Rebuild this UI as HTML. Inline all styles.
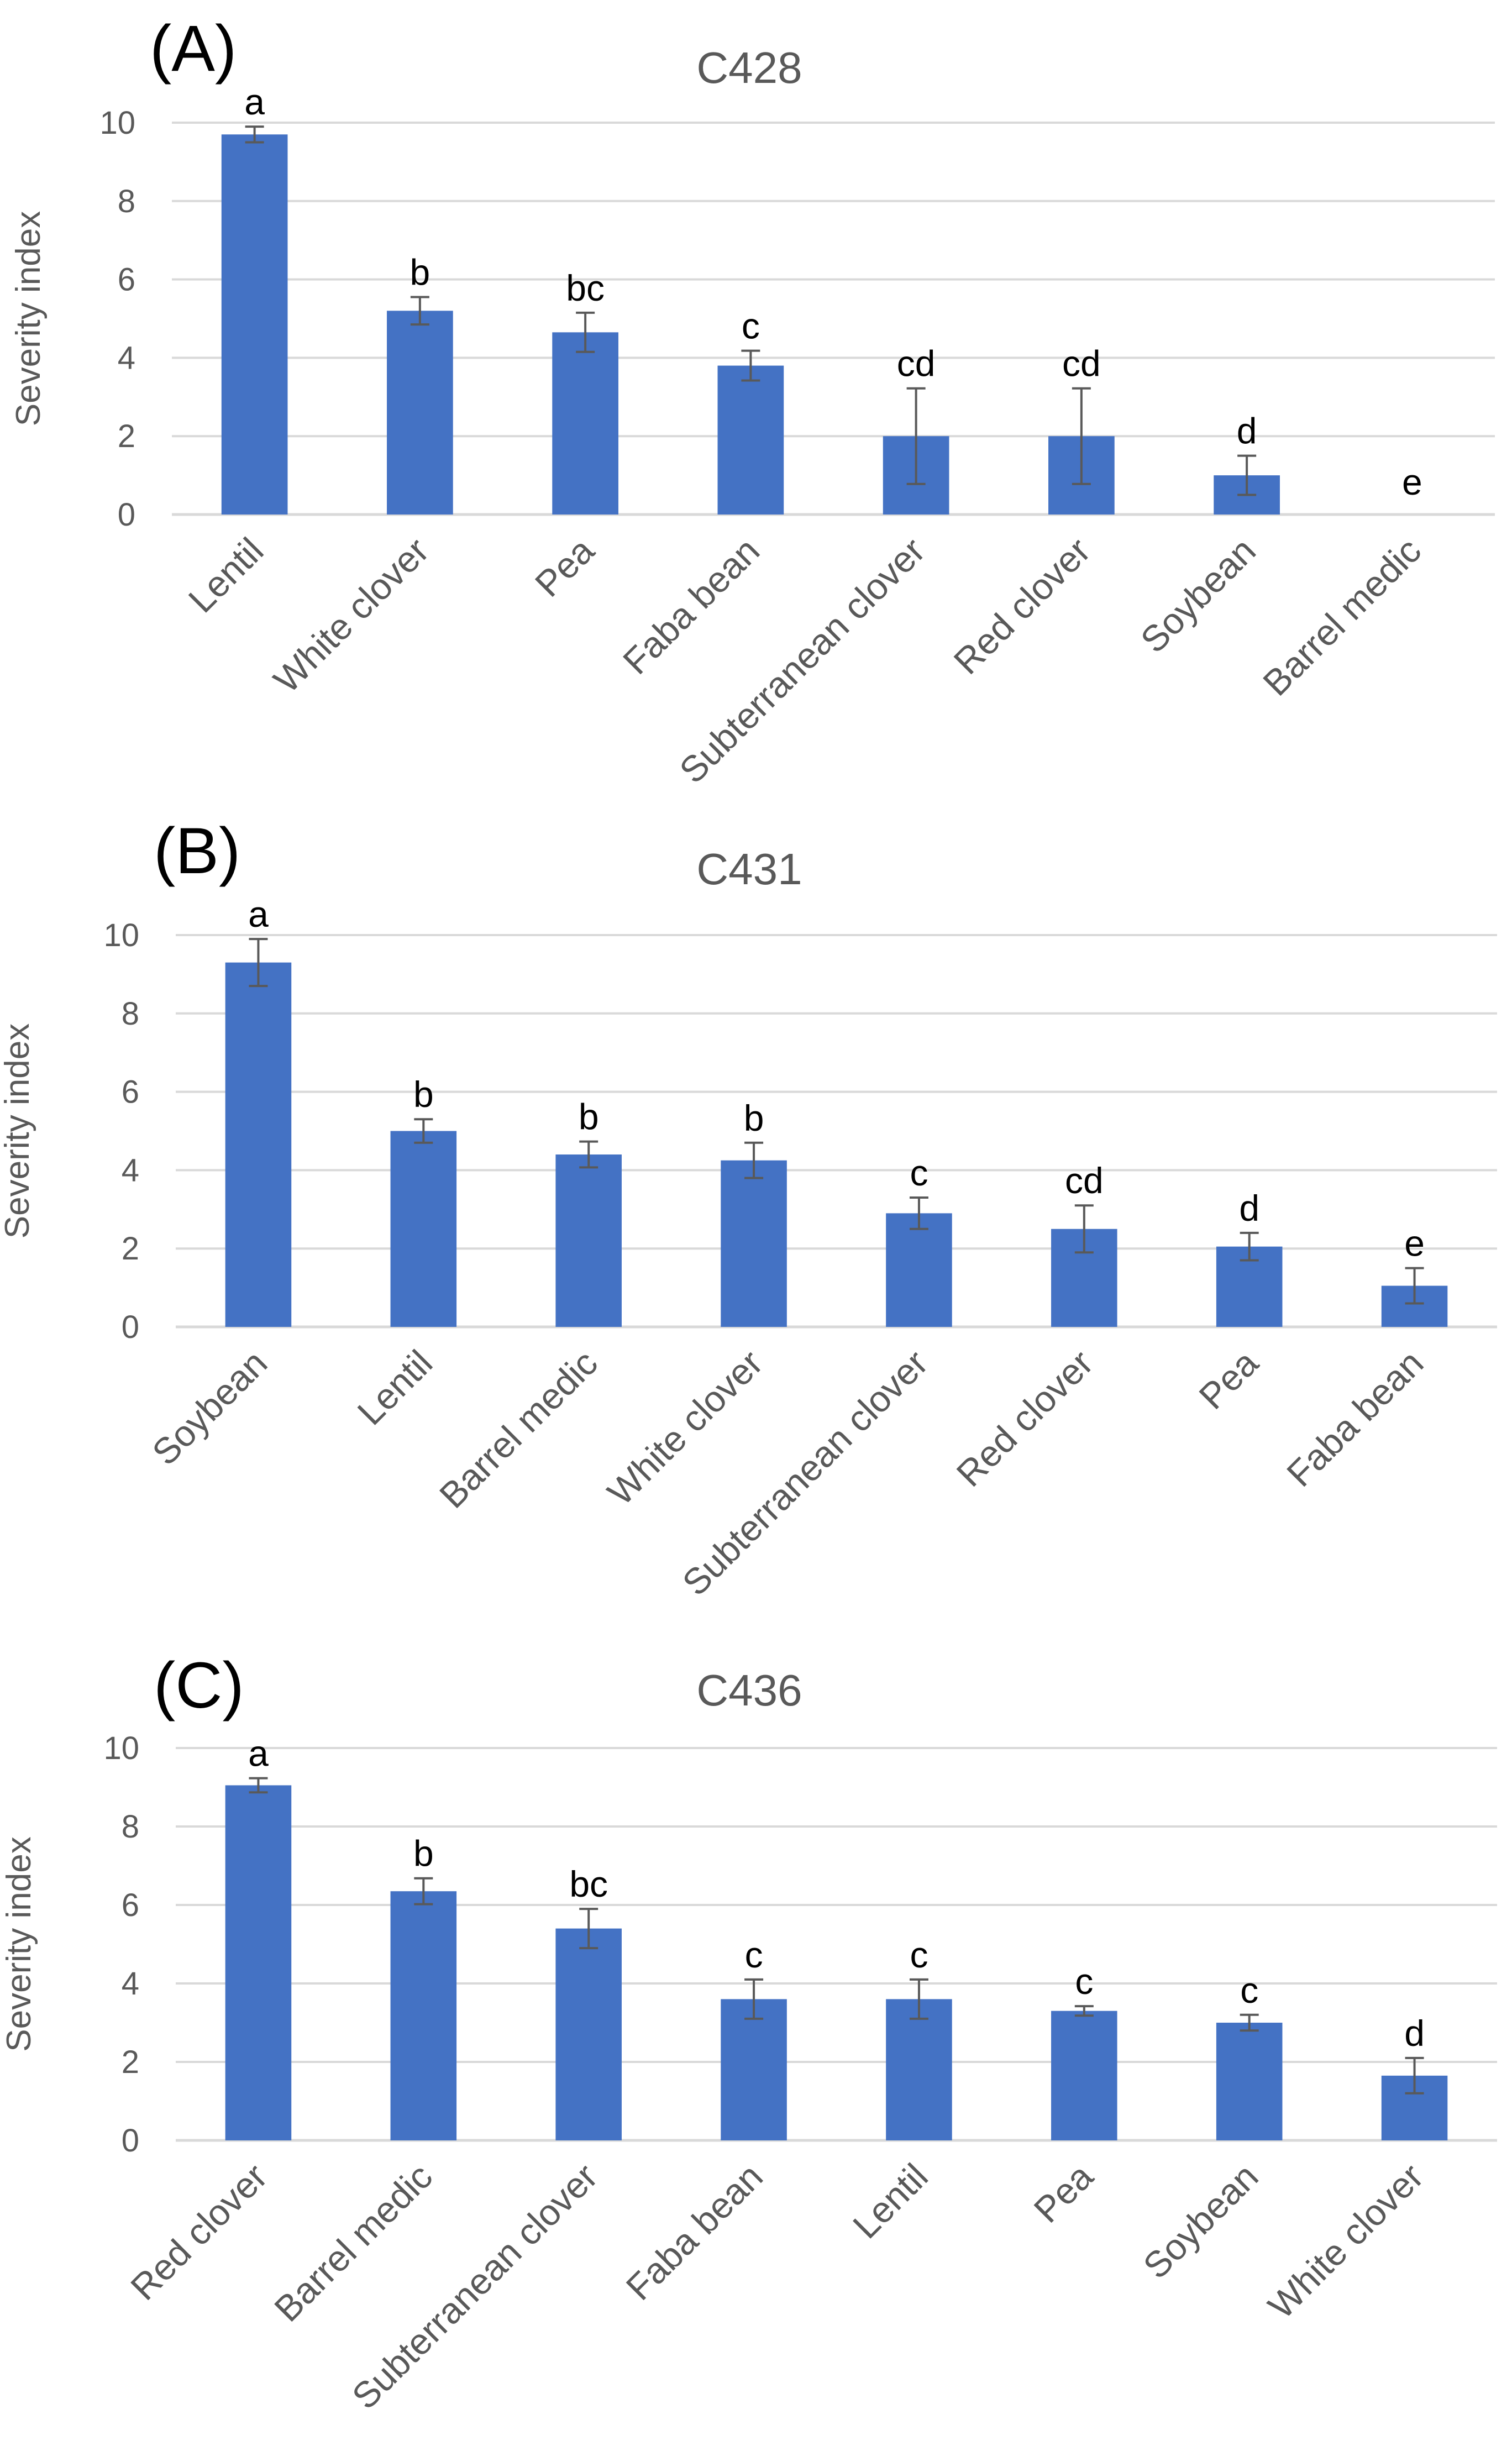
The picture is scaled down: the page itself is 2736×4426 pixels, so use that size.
<!DOCTYPE html>
<html><head><meta charset="utf-8">
<style>
html,body{margin:0;padding:0;background:#fff;}
svg{display:block;font-family:"Liberation Sans",sans-serif;}
</style></head>
<body>
<svg id="fig" width="2736" height="4426" viewBox="0 0 2736 4426" xmlns="http://www.w3.org/2000/svg">
<rect width="2736" height="4426" fill="#fff"/>
</svg>
<script>
const ticks = [0,2,4,6,8,10];
const catsA = ["Lentil","White clover","Pea","Faba bean","Subterranean clover","Red clover","Soybean","Barrel medic"];
const valsA = [9.7,5.2,4.65,3.8,2.0,2.0,1.0,0];
const errA  = [0.2,0.35,0.5,0.38,1.22,1.22,0.5,0];
const lettersA = ["a","b","bc","c","cd","cd","d","e"];
const catsB = ["Soybean","Lentil","Barrel medic","White clover","Subterranean clover","Red clover","Pea","Faba bean"];
const valsB = [9.3,5.0,4.4,4.25,2.9,2.5,2.05,1.05];
const errB  = [0.6,0.3,0.33,0.45,0.4,0.6,0.35,0.45];
const lettersB = ["a","b","b","b","c","cd","d","e"];
const catsC = ["Red clover","Barrel medic","Subterranean clover","Faba bean","Lentil","Pea","Soybean","White clover"];
const valsC = [9.05,6.35,5.4,3.6,3.6,3.3,3.0,1.65];
const errC  = [0.18,0.33,0.5,0.5,0.5,0.12,0.2,0.45];
const lettersC = ["a","b","bc","c","c","c","c","d"];

const NS="http://www.w3.org/2000/svg";
const svg=document.getElementById('fig');
function mk(tag,attrs,parent,text){const e=document.createElementNS(NS,tag);for(const k in attrs)e.setAttribute(k,attrs[k]);if(text!==undefined)e.textContent=text;parent.appendChild(e);return e;}

function panel(key,label,title,cats,vals,errs,letters,L,R,Y0,Y10,labelY,titleY,ytitleX){
  const g=mk('g',{},svg);
  
  
  const y=v=>Y0+(Y10-Y0)*v/10;
  const cw=(R-L)/cats.length;
  const x=i=>L+cw*(i+0.5);
  const pl=mk('text',{x:L-40,y:labelY,'font-size':118,fill:'#000'},g,label);
  
  
  const t=mk('text',{x:1356,y:titleY,'font-size':80,fill:'#595959','text-anchor':'middle'},g,title);
  
  
  ticks.forEach(v=>{
    const gl=mk('line',{x1:L,x2:R,y1:y(v),y2:y(v),stroke:'#d9d9d9','stroke-width':v===0?5:4},g);
    
    
    const tl=mk('text',{x:L-66,y:y(v)+20,'font-size':58,fill:'#595959','text-anchor':'end'},g,String(v));
    
    
  });
  const yt=mk('text',{x:ytitleX,y:(Y0+Y10)/2,'font-size':62,fill:'#595959','text-anchor':'middle',transform:`rotate(-90 ${ytitleX} ${(Y0+Y10)/2})`},g,'Severity index');
  
  
  const bw=cw*0.4;
  cats.forEach((c,i)=>{
    const b=mk('rect',{x:x(i)-bw/2,y:y(vals[i]),width:bw,height:Y0-y(vals[i]),fill:'#4472c4'},g);
    
    
    const hi=y(vals[i]+errs[i]),lo=y(Math.max(0,vals[i]-errs[i]));
    if(errs[i]>0){
      const eg=mk('g',{stroke:'#595959','stroke-width':4},g);
      
      
      mk('line',{x1:x(i),x2:x(i),y1:hi,y2:lo},eg);
      mk('line',{x1:x(i)-17,x2:x(i)+17,y1:hi,y2:hi},eg);
      mk('line',{x1:x(i)-17,x2:x(i)+17,y1:lo,y2:lo},eg);
    }
    const lt=mk('text',{x:x(i),y:hi-(errs[i]>0?22:36),'font-size':66,fill:'#000','text-anchor':'middle'},g,letters[i]);
    
    
    const cx=x(i)+20,cy=Y0+70;
    const cl=mk('text',{x:cx,y:cy,'font-size':66,fill:'#595959','text-anchor':'end',transform:`rotate(-45 ${cx} ${cy})`},g,c);
    
    
  });
}
panel('a','(A)','C428',catsA,valsA,errA,lettersA,311,2705,931,222,128,150,72);
panel('b','(B)','C431',catsB,valsB,errB,lettersB,318,2709,2401,1692,1580,1600,52);
panel('c','(C)','C436',catsC,valsC,errC,lettersC,318,2709,3873,3163,3090,3086,55);
</script>
</body></html>
